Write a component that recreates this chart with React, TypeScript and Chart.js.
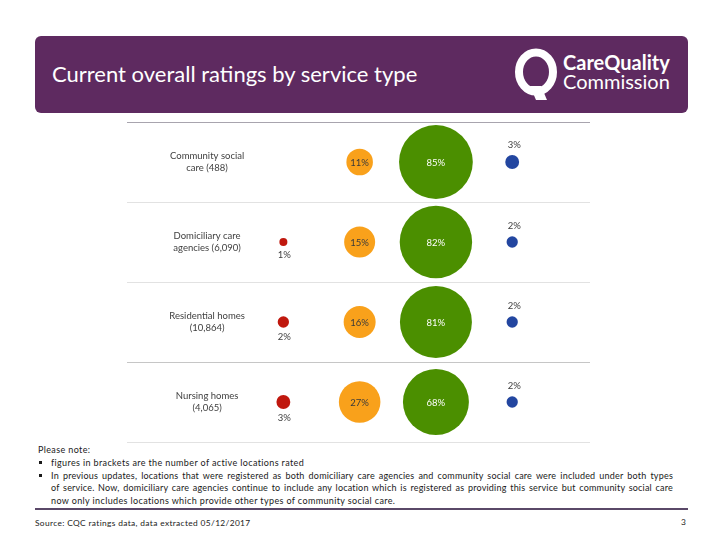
import React, { useEffect, useRef } from "react";
import { Chart, registerables } from "chart.js";

Chart.register(...registerables);

// ---- Data ----
const serviceTypes: string[][] = [
  ["Community social", "care (488)"],
  ["Domiciliary care", "agencies (6,090)"],
  ["Residential homes", "(10,864)"],
  ["Nursing homes", "(4,065)"],
];
const ratingNames = ["Inadequate", "Requires improvement", "Good", "Outstanding"];
const inadequate: (number | null)[] = [null, 1, 2, 3];
const requiresImprovement = [11, 15, 16, 27];
const good = [85, 82, 81, 68];
const outstanding = [3, 2, 2, 2];

const ratingColors = ["#c0180e", "#f9a11b", "#4b8f00", "#2346a0"];
const labelModes = ["below", "insideDark", "insideLight", "above"];
const FONT = "Lato, 'Open Sans', sans-serif";

const seriesList = [inadequate, requiresImprovement, good, outstanding];

function buildData() {
  return {
    datasets: seriesList.map((series, si) => ({
      label: ratingNames[si],
      labelMode: labelModes[si],
      backgroundColor: ratingColors[si],
      borderWidth: 0,
      clip: false,
      data: series
        .map((v, row) =>
          v == null ? null : { x: si + 1, y: row + 0.5, r: 4 * Math.sqrt(v), v }
        )
        .filter((p) => p !== null),
    })),
  };
}

const labelPlugin = {
  id: "bubbleLabels",
  afterDatasetsDraw(chart: any) {
    const { ctx, scales } = chart;
    ctx.save();
    ctx.textAlign = "center";
    ctx.textBaseline = "middle";
    ctx.font = `9.5px ${FONT}`;
    chart.data.datasets.forEach((ds: any, di: number) => {
      const meta = chart.getDatasetMeta(di);
      meta.data.forEach((el: any, i: number) => {
        const p = ds.data[i];
        const txt = `${p.v}%`;
        const r = p.r;
        if (ds.labelMode === "below") {
          ctx.fillStyle = "#404040";
          ctx.fillText(txt, el.x + 1, el.y + r + 9);
        } else if (ds.labelMode === "above") {
          ctx.fillStyle = "#404040";
          ctx.fillText(txt, el.x + 2, el.y - r - 10.5);
        } else if (ds.labelMode === "insideDark") {
          ctx.fillStyle = "#3a3a3a";
          ctx.fillText(txt, el.x, el.y + 0.5);
        } else {
          ctx.fillStyle = "#ffffff";
          ctx.fillText(txt, el.x, el.y + 0.5);
        }
      });
    });
    ctx.fillStyle = "#404040";
    serviceTypes.forEach((lines, i) => {
      const x = scales.x.getPixelForValue(0);
      const y = scales.y.getPixelForValue(i + 0.5);
      lines.forEach((ln, j) => {
        ctx.fillText(ln, x, y + (j - (lines.length - 1) / 2) * 12);
      });
    });
    ctx.restore();
  },
};

function BubbleChart() {
  const ref = useRef<HTMLCanvasElement>(null);
  useEffect(() => {
    if (!ref.current) return;
    const chart = new Chart(ref.current, {
      type: "bubble",
      data: buildData() as any,
      options: {
        animation: false,
        responsive: false,
        maintainAspectRatio: false,
        events: [],
        layout: { autoPadding: false, padding: { left: 10, right: 10, top: 10, bottom: 10 } },
        plugins: { legend: { display: false }, tooltip: { enabled: false } },
        scales: {
          x: { type: "linear", min: -1.05, max: 5.02, display: false },
          y: {
            type: "linear",
            min: 0,
            max: serviceTypes.length,
            reverse: true,
            ticks: { display: false, stepSize: 1 },
            border: { display: false },
            grid: {
              drawTicks: false,
              lineWidth: 1,
              color: (c: any) =>
                c.tick && c.tick.value === 0
                  ? "#a8a4ae"
                  : c.tick && c.tick.value === 3
                  ? "#c6c6c6"
                  : "#e2e2e2",
            },
          },
        },
      } as any,
      plugins: [labelPlugin],
    });
    return () => chart.destroy();
  }, []);
  return (
    <canvas
      ref={ref}
      width={483}
      height={340}
      style={{ position: "absolute", left: 117, top: 112, width: 483, height: 340 }}
    />
  );
}

function Logo() {
  return (
    <svg
      width={175}
      height={64}
      style={{ position: "absolute", left: 510, top: 44 }}
      viewBox="0 0 175 64"
    >
      <ellipse cx={26} cy={28} rx={17} ry={19.5} fill="none" stroke="#fff" strokeWidth={8} />
      <path d="M20 42 L31 42 L37 56 L26 56 Z" fill="#fff" />
      <text x={53} y={26} fill="#fff" fontFamily={FONT} fontWeight={700} fontSize={20}>
        CareQuality
      </text>
      <text x={53} y={45} fill="#fff" fontFamily={FONT} fontWeight={400} fontSize={20}>
        Commission
      </text>
    </svg>
  );
}

const noteText = {
  position: "absolute" as const,
  fontFamily: FONT,
  fontSize: 9,
  letterSpacing: "0.37px",
  color: "#1a1a1a",
  whiteSpace: "nowrap" as const,
  lineHeight: "12px",
};

const bullet = (top: number) => (
  <div
    style={{ position: "absolute", left: 39, top, width: 3, height: 3, background: "#1a1a1a" }}
  />
);

export default function App() {
  return (
    <div
      style={{
        position: "fixed",
        left: 0,
        top: 0,
        width: 720,
        height: 540,
        background: "#fff",
        overflow: "hidden",
        fontFamily: FONT,
      }}
    >
      <div
        style={{
          position: "absolute",
          left: 35,
          top: 36,
          width: 653,
          height: 77,
          borderRadius: 6,
          background: "#5e2a60",
        }}
      />
      <div
        style={{
          position: "absolute",
          left: 52,
          top: 60,
          color: "#fff",
          fontSize: 22,
          lineHeight: "28px",
          fontFamily: FONT,
          whiteSpace: "nowrap",
        }}
      >
        Current overall ratings by service type
      </div>
      <Logo />
      <BubbleChart />

      <div style={{ ...noteText, left: 38, top: 444 }}>Please note:</div>
      {bullet(461)}
      <div style={{ ...noteText, left: 51, top: 457 }}>
        figures in brackets are the number of active locations rated
      </div>
      {bullet(474)}
      <div
        style={{
          ...noteText,
          letterSpacing: "0.2px",
          left: 51,
          top: 470,
          width: 622,
          textAlignLast: "justify" as any,
          whiteSpace: "normal",
        }}
      >
        In previous updates, locations that were registered as both domiciliary care agencies and community social care were included under both types
      </div>
      <div
        style={{
          ...noteText,
          letterSpacing: "0.2px",
          left: 51,
          top: 482,
          width: 622,
          textAlignLast: "justify" as any,
          whiteSpace: "normal",
        }}
      >
        of service. Now, domiciliary care agencies continue to include any location which is registered as providing this service but community social care
      </div>
      <div style={{ ...noteText, left: 51, top: 495 }}>
        now only includes locations which provide other types of community social care.
      </div>

      <div
        style={{
          position: "absolute",
          left: 35,
          top: 508,
          width: 653,
          height: 2,
          background: "#5a4868",
        }}
      />
      <div style={{ ...noteText, left: 35, top: 517, fontSize: 8.4, letterSpacing: "0.35px" }}>
        Source: CQC ratings data, data extracted 05/12/2017
      </div>
      <div style={{ ...noteText, left: 681, top: 516, fontSize: 8.4 }}>3</div>
    </div>
  );
}
